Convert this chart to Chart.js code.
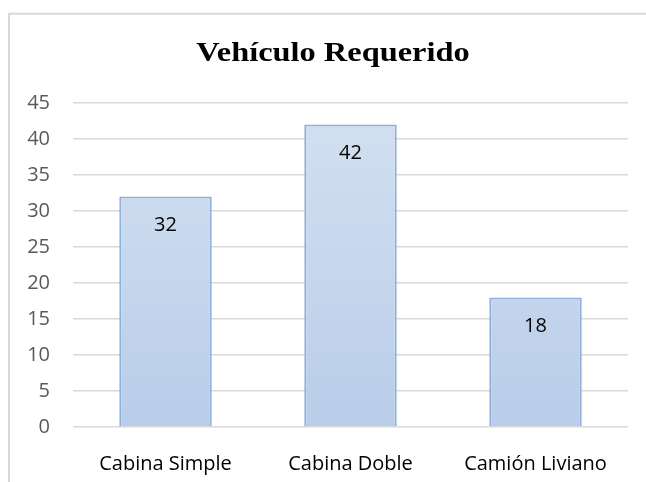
<!DOCTYPE html>
<html>
<head>
<meta charset="utf-8">
<script src="https://cdn.jsdelivr.net/npm/chart.js@4.4.1/dist/chart.umd.min.js"></script>
<style>
  html, body { margin: 0; padding: 0; background: #fff; }
  #wrap { width: 646px; height: 482px; }
</style>
</head>
<body>
<div id="wrap"><canvas id="myChart" width="646" height="482"></canvas></div>
<script>
const chartTitle = 'Vehículo Requerido';
const categories = ['Cabina Simple', 'Cabina Doble', 'Camión Liviano'];
const vehicleCounts = [32, 42, 18];
const yTicks = [0, 5, 10, 15, 20, 25, 30, 35, 40, 45];

const labelFont = { family: '"Open Sans", sans-serif', size: 20 };

// frame, stretched serif title and the value labels inside the bars
const decorations = {
  id: 'decorations',
  beforeDraw(chart) {
    const c = chart.ctx;
    c.save();
    c.strokeStyle = '#d9d9d9';
    c.lineWidth = 2;
    c.strokeRect(9, 13.7, 700, 520);
    c.restore();
  },
  afterDraw(chart) {
    const c = chart.ctx;
    c.save();
    c.font = 'bold 27px "Liberation Serif", "Times New Roman", serif';
    c.fillStyle = '#000';
    c.textAlign = 'center';
    c.textBaseline = 'alphabetic';
    c.translate(333, 61);
    c.scale(1.2, 1);
    c.fillText(chartTitle, 0, 0);
    c.restore();
  },
  afterDatasetsDraw(chart) {
    const c = chart.ctx;
    const meta = chart.getDatasetMeta(0);
    c.save();
    c.font = '20px "Open Sans", sans-serif';
    c.fillStyle = '#000';
    c.textAlign = 'center';
    c.textBaseline = 'middle';
    meta.data.forEach((bar, i) => {
      c.fillText(String(vehicleCounts[i]), bar.x, bar.y + 29);
    });
    c.restore();
  }
};

function barGradient(context) {
  const area = context.chart.chartArea;
  if (!area) return '#c5d6ec';
  const g = context.chart.ctx.createLinearGradient(0, area.top, 0, area.bottom);
  g.addColorStop(0, '#d3e0f1');
  g.addColorStop(1, '#b9cde9');
  return g;
}

const myChart = new Chart('myChart', {
  type: 'bar',
  data: {
    labels: categories,
    datasets: [{
      data: vehicleCounts,
      backgroundColor: barGradient,
      borderColor: '#8fb0dc',
      borderWidth: 2,
      borderSkipped: 'bottom',
      barPercentage: 0.5,
      categoryPercentage: 1
    }]
  },
  options: {
    responsive: false,
    animation: false,
    layout: { padding: { top: 103, right: 18, bottom: 0, left: 0 } },
    plugins: {
      legend: { display: false },
      title: { display: false },
      tooltip: { enabled: false }
    },
    scales: {
      x: {
        grid: { display: false },
        border: { display: false },
        ticks: { color: '#000', font: labelFont, padding: 17, maxRotation: 0 },
        afterFit: s => { s.height = 55; }
      },
      y: {
        min: yTicks[0],
        max: yTicks[yTicks.length - 1],
        afterBuildTicks: s => { s.ticks = yTicks.map(v => ({ value: v })); },
        grid: { color: '#d9d9d9', lineWidth: 1.5, drawTicks: false },
        border: { display: false },
        ticks: { color: '#595959', font: labelFont, padding: 23 },
        afterFit: s => { s.width = 73; }
      }
    }
  },
  plugins: [decorations]
});
</script>
</body>
</html>
